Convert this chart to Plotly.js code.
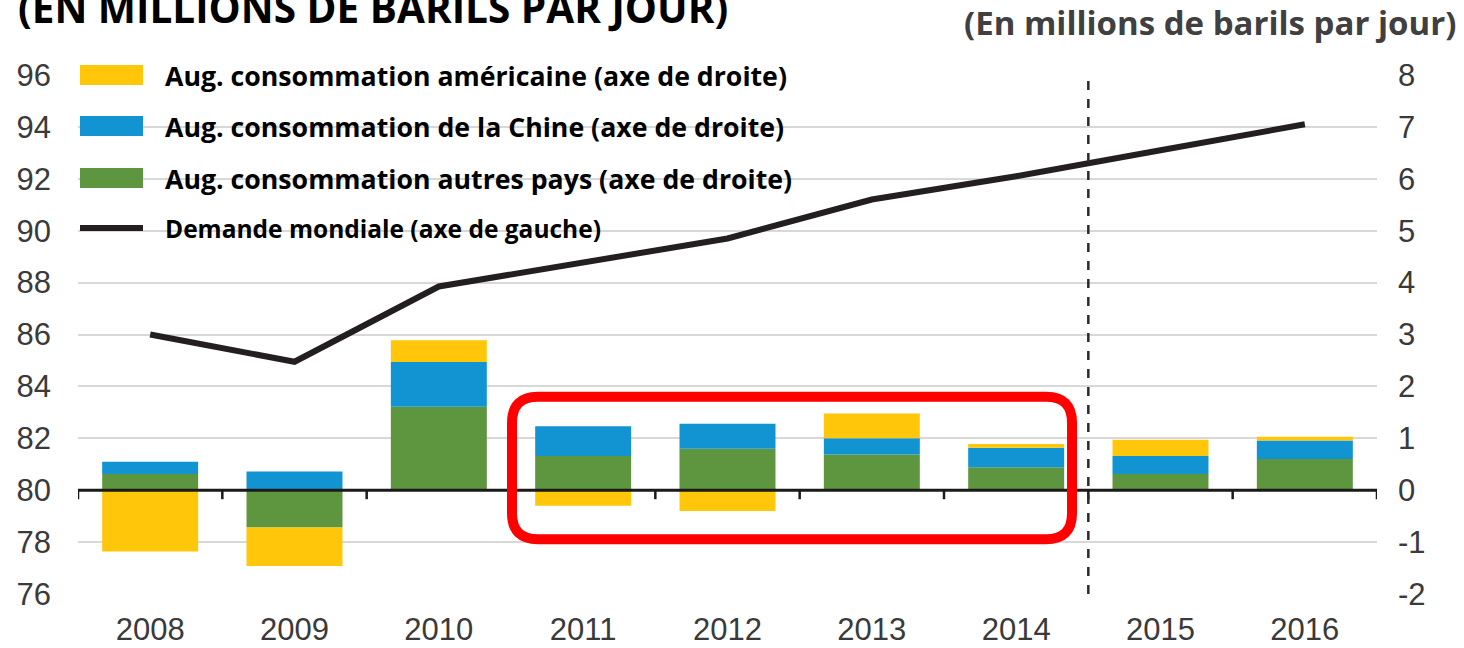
<!DOCTYPE html>
<html>
<head>
<meta charset="utf-8">
<script src="https://cdn.plot.ly/plotly-3.0.1.min.js"></script>
<style>html,body{margin:0;padding:0;background:#fff;}#chart{width:1464px;height:648px;}</style>
</head>
<body>
<div id="chart"></div>
<script>
// ---- data ----
const years = ['2008','2009','2010','2011','2012','2013','2014','2015','2016'];
const autresPays = [0.31, -0.72, 1.61, 0.66, 0.80, 0.69, 0.44, 0.31, 0.60];
const chine      = [0.24,  0.36, 0.86, 0.57, 0.48, 0.31, 0.38, 0.35, 0.36];
const usa        = [-1.18, -0.74, 0.42, -0.30, -0.40, 0.48, 0.07, 0.31, 0.07];
const demande    = [86.0, 84.95, 87.85, 88.8, 89.7, 91.2, 92.1, 93.1, 94.1];
const leftTicks  = [76,78,80,82,84,86,88,90,92,94,96];
const rightTicks = [-2,-1,0,1,2,3,4,5,6,7,8];
const rightTickText = ['-2','-1','0','1','2','3','4','5','6','7','8'];
const legendLabels = [
  'Aug. consommation américaine (axe de droite)',
  'Aug. consommation de la Chine (axe de droite)',
  'Aug. consommation autres pays (axe de droite)',
  'Demande mondiale (axe de gauche)'
];
const titleLeft  = '(EN MILLIONS DE BARILS PAR JOUR)';
const titleRight = '(En millions de barils par jour)';

// ---- style ----
const W = 1464, H = 648;
const M = {l: 78, r: 87, t: 75, b: 54};
const PW = W - M.l - M.r, PH = H - M.t - M.b;
const px2x = p => (p - M.l) / PW;
const px2y = p => (H - M.b - p) / PH;
const cYellow = '#FFC60A', cBlue = '#1294D2', cGreen = '#5E9640', cLine = '#231F20';
const tickFont = {family: 'Liberation Sans, Arial, sans-serif', size: 31, color: '#3A3A3A'};
const legFont = 'Open Sans, sans-serif';

const traces = [
  {type:'bar', x: years, y: autresPays, yaxis:'y2', name: legendLabels[2], marker:{color:cGreen}, showlegend:false},
  {type:'bar', x: years, y: chine, yaxis:'y2', name: legendLabels[1], marker:{color:cBlue}, showlegend:false},
  {type:'bar', x: years, y: usa, yaxis:'y2', name: legendLabels[0], marker:{color:cYellow}, showlegend:false},
  {type:'scatter', mode:'lines', x: years, y: demande, yaxis:'y', name: legendLabels[3], line:{color:cLine, width:6}, showlegend:false}
];

const shapes = [];
const annotations = [];

// x axis line at zero (right axis) with boundary ticks
shapes.push({type:'line', xref:'x', yref:'y2', x0:-0.5, x1:years.length-0.5, y0:0, y1:0, line:{color:'#1a1a1a', width:3}, layer:'above'});
for (let k = 0; k <= years.length; k++) {
  shapes.push({type:'line', xref:'x', yref:'y2', ysizemode:'pixel', yanchor:0, x0:k-0.5, x1:k-0.5, y0:0, y1:-9, line:{color:'#1a1a1a', width:2.5}, layer:'above'});
}
// forecast divider
shapes.push({type:'line', xref:'x', yref:'paper', x0:6.5, x1:6.5, y0:0, y1:1, line:{color:'#2a2a2a', width:2.5, dash:'dash'}, layer:'above'});

// red highlight box (rounded)
(function(){
  const x0 = 2.507, x1 = 6.387, y0 = -0.944, y1 = 1.80;
  const rx = 26 / (PW / years.length), ry = 26 / (PH / 10);
  const p = `M ${x0+rx},${y1} L ${x1-rx},${y1} Q ${x1},${y1} ${x1},${y1-ry} L ${x1},${y0+ry} Q ${x1},${y0} ${x1-rx},${y0} L ${x0+rx},${y0} Q ${x0},${y0} ${x0},${y0+ry} L ${x0},${y1-ry} Q ${x0},${y1} ${x0+rx},${y1} Z`;
  shapes.push({type:'path', xref:'x', yref:'y2', path:p, line:{color:'#FF0000', width:10}, layer:'above'});
})();

// legend background (hides gridlines)
const legRows = [75, 126, 178, 228];
const legBgRight = [848, 848, 832, 657];
legRows.forEach((r, i) => {
  shapes.push({type:'rect', xref:'paper', yref:'paper', x0:px2x(74), x1:px2x(legBgRight[i]), y0:px2y(r+14), y1:px2y(r-14), fillcolor:'#FFFFFF', line:{width:0}, layer:'between'});
});
const swatchColors = [cYellow, cBlue, cGreen];
swatchColors.forEach((c, i) => {
  shapes.push({type:'rect', xref:'paper', yref:'paper', x0:px2x(80), x1:px2x(143), y0:px2y(legRows[i]+10), y1:px2y(legRows[i]-10), fillcolor:c, line:{width:0}, layer:'above'});
});
shapes.push({type:'line', xref:'paper', yref:'paper', x0:px2x(80), x1:px2x(143), y0:px2y(legRows[3]), y1:px2y(legRows[3]), line:{color:cLine, width:6}, layer:'above'});
legendLabels.forEach((t, i) => {
  annotations.push({xref:'paper', yref:'paper', x:px2x(163), y:px2y(legRows[i]), xanchor:'left', yanchor:'middle', showarrow:false, text:'<b>'+t+'</b>', font:{family:legFont, size: i===3 ? 24.5 : 26.7, color:'#000'}});
});

// titles
annotations.push({xref:'paper', yref:'paper', x:px2x(16), y:px2y(37), xanchor:'left', yanchor:'bottom', showarrow:false, text:'<b>'+titleLeft+'</b>', font:{family:legFont, size:40.5, color:'#000'}});
annotations.push({xref:'paper', yref:'paper', x:px2x(1458), y:px2y(47), xanchor:'right', yanchor:'bottom', showarrow:false, text:'<b>'+titleRight+'</b>', font:{family:legFont, size:33, color:'#404040'}});

const layout = {
  width: W, height: H,
  margin: M,
  paper_bgcolor:'#fff', plot_bgcolor:'#fff',
  barmode:'relative', bargap: 0.335,
  showlegend:false,
  xaxis:{type:'category', categoryorder:'array', categoryarray: years, range:[-0.5, years.length-0.5], showgrid:false, showline:false, zeroline:false, ticks:'', tickfont: tickFont, ticklabelstandoff: 14, fixedrange:true},
  yaxis:{range:[76, 96], tickvals: leftTicks, showgrid:true, gridcolor:'#D8D8D8', gridwidth:2, zeroline:false, showline:false, ticks:'', tickfont: tickFont, ticklabelstandoff: 26},
  yaxis2:{range:[-2, 8], tickvals: rightTicks, ticktext: rightTickText, overlaying:'y', side:'right', showgrid:false, zeroline:false, showline:false, ticks:'', tickfont: tickFont, ticklabelstandoff: 20},
  shapes, annotations
};

Plotly.newPlot('chart', traces, layout, {displayModeBar:false, staticPlot:true});
</script>
</body>
</html>
